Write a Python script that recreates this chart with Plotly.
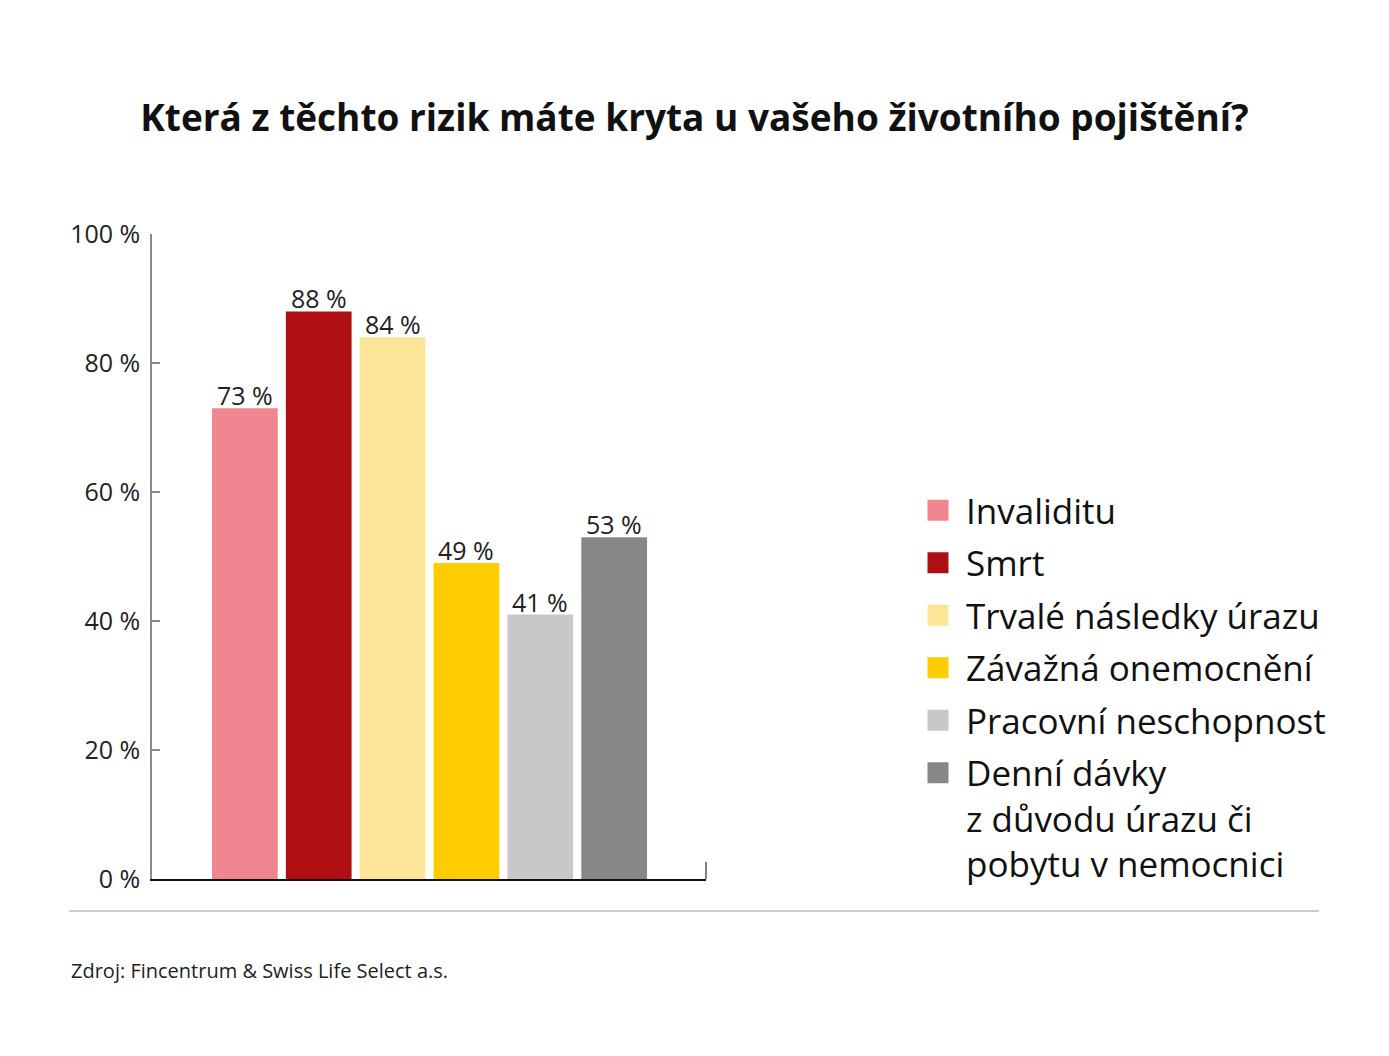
import plotly.graph_objects as go

categories = ["Invaliditu", "Smrt", "Trvalé následky úrazu", "Závažná onemocnění",
              "Pracovní neschopnost", "Denní dávky<br>z důvodu úrazu či<br>pobytu v nemocnici"]
values = [73, 88, 84, 49, 41, 53]
colors = ["#F0868F", "#AF0F12", "#FDE598", "#FFCC00", "#C8C8C8", "#878787"]
ytick_vals = [0, 20, 40, 60, 80, 100]
ytick_text = ["0 %", "20 %", "40 %", "60 %", "80 %", "100 %"]

FONT = "Open Sans"

fig = go.Figure()
for i, (cat, val, col) in enumerate(zip(categories, values, colors)):
    fig.add_trace(go.Bar(
        x=[i], y=[val], name=cat, width=0.89,
        marker=dict(color=col, line=dict(width=0)),
        showlegend=False, cliponaxis=False,
    ))
    fig.add_annotation(x=i, y=val, text=f"{val} %", showarrow=False,
                       xanchor="center", yanchor="middle", yshift=13,
                       font=dict(size=25, color="#222222", family=FONT))
# legend entries (square swatches)
for i, (cat, col) in enumerate(zip(categories, colors)):
    fig.add_trace(go.Scatter(
        x=[None], y=[None], name=cat, mode="markers",
        marker=dict(symbol="square", size=16, color=col, line=dict(color=col, width=5)),
        showlegend=True, legendgroup=f"g{i}",
    ))

fig.update_layout(
    width=1389, height=1056,
    margin=dict(l=152, r=683, t=234, b=177),
    paper_bgcolor="white", plot_bgcolor="white",
    barmode="overlay",
    font=dict(family=FONT, color="#222222"),
    title=dict(text="<b>Která z těchto rizik máte kryta u vašeho životního pojištění?</b>",
               x=0.5, xanchor="center", y=1 - 118 / 1056, yanchor="middle",
               font=dict(size=37, color="#111111", family=FONT)),
    showlegend=True,
    legend=dict(x=(910 - 152) / 554, xanchor="left", y=(879 - 481) / 645, yanchor="top",
                font=dict(size=35, color="#111111", family=FONT),
                tracegroupgap=4, itemsizing="trace", itemwidth=46, valign="top",
                bgcolor="rgba(0,0,0,0)"),
    xaxis=dict(range=[-1.257, 6.243], showticklabels=False, showgrid=False, zeroline=False,
               showline=True, linecolor="#111111", linewidth=1.5, ticks=""),
    yaxis=dict(range=[0, 100], tickvals=ytick_vals, ticktext=ytick_text, showgrid=False,
               zeroline=False, showline=True, linecolor="#8a8a8a", linewidth=1.5,
               ticks="inside", ticklen=8, tickcolor="#8a8a8a", tickwidth=1.5,
               tickfont=dict(size=25, color="#222222", family=FONT), ticklabelstandoff=5),
)

# right end tick of x axis
fig.add_shape(type="line", xref="x domain", yref="y domain", x0=1, x1=1, y0=0, y1=17 / 645,
              line=dict(color="#555555", width=1.5))
# separator line
fig.add_shape(type="line", xref="paper", yref="paper",
              x0=(69 - 152) / 554, x1=(1319 - 152) / 554,
              y0=(879 - 911) / 645, y1=(879 - 911) / 645,
              line=dict(color="#999999", width=1.2))
fig.add_annotation(text="Zdroj: Fincentrum & Swiss Life Select a.s.", xref="paper", yref="paper",
                   x=(69 - 152) / 554, y=(879 - 970) / 645, xanchor="left", yanchor="middle",
                   showarrow=False, font=dict(size=20, color="#222222", family=FONT))

fig.write_html("out.html")
